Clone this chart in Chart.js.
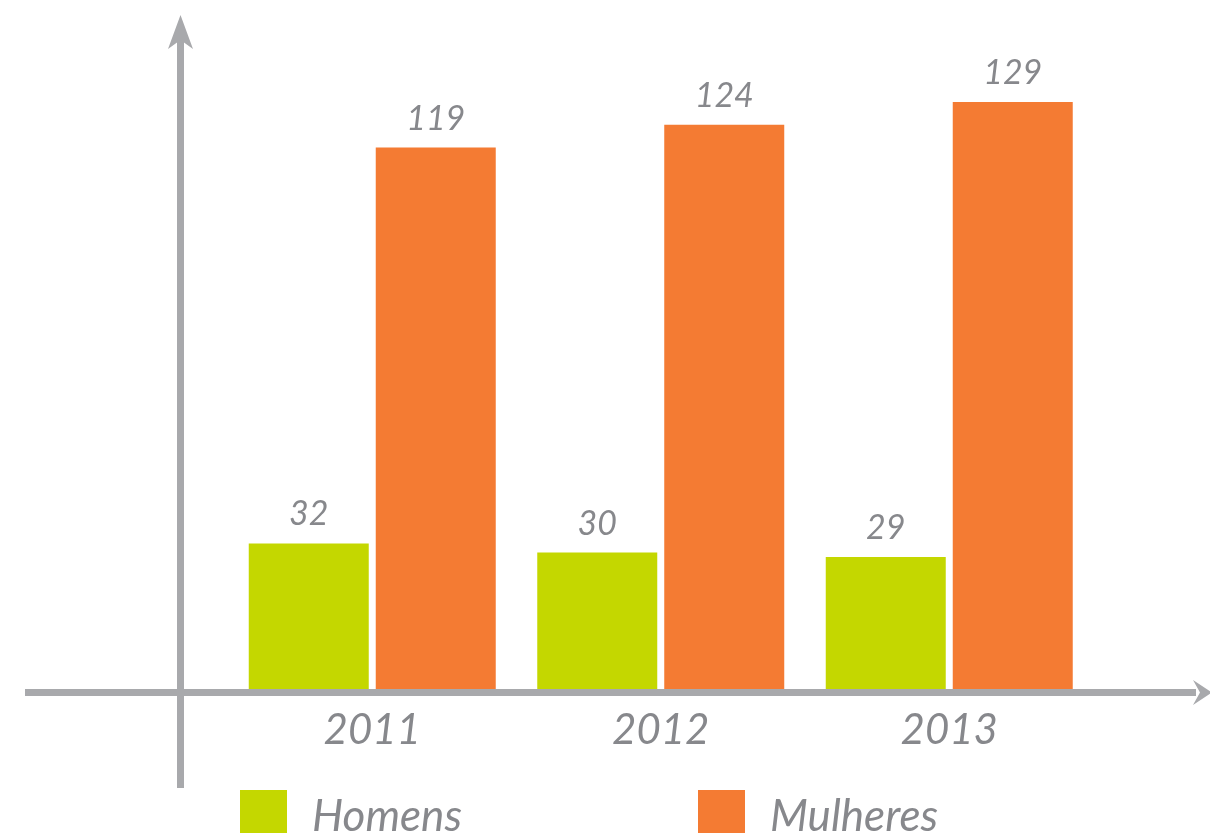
<!DOCTYPE html>
<html>
<head>
<meta charset="utf-8">
<script src="https://cdn.jsdelivr.net/npm/chart.js@4.4.1/dist/chart.umd.min.js"></script>
<style>
  html, body { margin: 0; padding: 0; background: #fff; }
  #wrap { width: 1210px; height: 833px; }
</style>
</head>
<body>
<div id="wrap"><canvas id="chart" width="1210" height="833"></canvas></div>
<script>
// dados
const anos = ['2011', '2012', '2013'];
const homens = [32, 30, 29];
const mulheres = [119, 124, 129];
const series = ['Homens', 'Mulheres'];

const verde = '#c4d700';
const laranja = '#f47b33';
const cinzaEixo = '#a8a9ac';
const cinzaTexto = '#87888c';

// eixos com setas
const eixos = {
    id: 'eixos',
    afterDatasetsDraw(chart) {
        const ctx = chart.ctx;
        const area = chart.chartArea;
        const yEixo = area.bottom + 3.5;
        const xEixo = 180.5;
        ctx.save();
        ctx.strokeStyle = cinzaEixo;
        ctx.fillStyle = cinzaEixo;
        ctx.lineWidth = 7;
        // linha horizontal
        ctx.beginPath();
        ctx.moveTo(25, yEixo);
        ctx.lineTo(1196, yEixo);
        ctx.stroke();
        ctx.beginPath();
        ctx.moveTo(1212, yEixo);
        ctx.lineTo(1193, yEixo - 12.5);
        ctx.lineTo(1200, yEixo);
        ctx.lineTo(1193, yEixo + 12.5);
        ctx.closePath();
        ctx.fill();
        // linha vertical
        ctx.beginPath();
        ctx.moveTo(xEixo, 788);
        ctx.lineTo(xEixo, 30);
        ctx.stroke();
        ctx.beginPath();
        ctx.moveTo(xEixo, 15);
        ctx.lineTo(xEixo - 12.5, 49);
        ctx.lineTo(xEixo, 40);
        ctx.lineTo(xEixo + 12.5, 49);
        ctx.closePath();
        ctx.fill();
        ctx.restore();
    }
};

// valores acima das barras
const rotulos = {
    id: 'rotulos',
    afterDatasetsDraw(chart) {
        const ctx = chart.ctx;
        ctx.save();
        ctx.font = 'italic 34px Lato';
        ctx.fillStyle = cinzaTexto;
        ctx.textAlign = 'center';
        ctx.textBaseline = 'alphabetic';
        chart.data.datasets.forEach((ds, i) => {
            chart.getDatasetMeta(i).data.forEach((bar, j) => {
                ctx.fillText(ds.data[j], bar.x, bar.y - 18);
            });
        });
        ctx.restore();
    }
};

// legenda
const legenda = {
    id: 'legenda',
    afterDraw(chart) {
        const ctx = chart.ctx;
        const posX = [240, 698];
        ctx.save();
        ctx.font = 'italic 44px Lato';
        ctx.textBaseline = 'alphabetic';
        ctx.textAlign = 'left';
        chart.data.datasets.forEach((ds, i) => {
            ctx.fillStyle = ds.backgroundColor;
            ctx.fillRect(posX[i], 790, 47, 47);
            ctx.fillStyle = cinzaTexto;
            ctx.fillText(ds.label, posX[i] + 72, 831);
        });
        ctx.restore();
    }
};

new Chart(document.getElementById('chart'), {
    type: 'bar',
    data: {
        labels: anos,
        datasets: [{
            label: series[0],
            data: homens,
            backgroundColor: verde
        }, {
            label: series[1],
            data: mulheres,
            backgroundColor: laranja
        }]
    },
    options: {
        responsive: false,
        animation: false,
        events: [],
        categoryPercentage: 0.8804,
        barPercentage: 0.9449,
        layout: {
            padding: { left: 228, right: 116.5, top: 52, bottom: 61.6 }
        },
        plugins: {
            legend: { display: false },
            tooltip: { enabled: false }
        },
        scales: {
            x: {
                grid: { display: false, drawTicks: false },
                border: { display: false },
                ticks: {
                    color: cinzaTexto,
                    padding: 16,
                    font: { family: 'Lato', size: 42, style: 'italic' }
                }
            },
            y: {
                display: false,
                min: 0,
                max: 140
            }
        }
    },
    plugins: [eixos, rotulos, legenda]
});
</script>
</body>
</html>
